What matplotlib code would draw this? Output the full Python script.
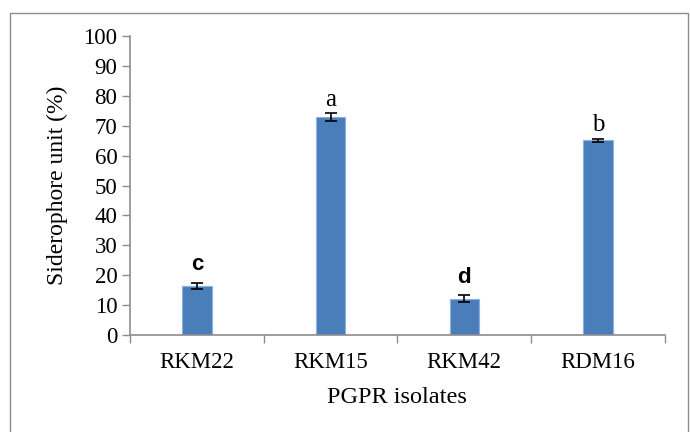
import matplotlib
matplotlib.use("Agg")
import matplotlib.pyplot as plt
from matplotlib.patches import Rectangle

categories = ["RKM22", "RKM15", "RKM42", "RDM16"]
values = [16.5, 72.8, 12.2, 65.2]
errors = [1.0, 1.3, 1.1, 0.5]
letters = ["c", "a", "d", "b"]
yticks = [0, 10, 20, 30, 40, 50, 60, 70, 80, 90, 100]

serif = ["Liberation Serif", "DejaVu Serif"]
sans = ["Liberation Sans", "DejaVu Sans"]

fig = plt.figure(figsize=(6.9, 4.32), dpi=100)
fig.patches.append(Rectangle((0.0145, -0.05), 0.982, 1.02, transform=fig.transFigure,
                             fill=False, edgecolor="#8c8c8c", linewidth=1.0))
ax = fig.add_axes([0.1884, 0.2245, 0.775, 0.692])

x = list(range(len(categories)))
ax.bar(x, values, width=0.22, color="#4a7ebb", edgecolor="#8fb0dc", linewidth=0.8, zorder=2)
ax.errorbar(x, values, yerr=errors, fmt="none", ecolor="black", elinewidth=1.2,
            capsize=4, capthick=1.2, zorder=3)

for i, (v, e, l) in enumerate(zip(values, errors, letters)):
    if l in ("a", "b"):
        ax.text(i, v + e + 1.0, l, ha="center", va="bottom", fontsize=18, family=serif)
    else:
        ax.text(i, v + e + 2.5, l, ha="center", va="bottom", fontsize=16, family=sans,
                fontweight="bold")

ax.set_xlim(-0.5, 3.5)
ax.set_ylim(0, 100)
ax.set_yticks(yticks)
ax.set_yticklabels([str(t) for t in yticks], family=serif, fontsize=16.5)
ax.set_xticks(x)
ax.set_xticklabels(categories, family=serif, fontsize=16.5)
ax.set_xticks([-0.5, 0.5, 1.5, 2.5, 3.5], minor=True)
ax.tick_params(axis="x", which="major", length=0, pad=12)
ax.tick_params(axis="x", which="minor", length=6, color="#8c8c8c", width=1)
ax.tick_params(axis="y", length=6, color="#8c8c8c", width=1, pad=3)

for s in ["top", "right"]:
    ax.spines[s].set_visible(False)
for s in ["left", "bottom"]:
    ax.spines[s].set_color("#8c8c8c")
    ax.spines[s].set_linewidth(1.2)

ax.set_ylabel("Siderophore unit (%)", family=serif, fontsize=17, labelpad=11)
ax.set_xlabel("PGPR isolates", family=serif, fontsize=17.5, labelpad=10)

fig.savefig("out.png", dpi=100)
